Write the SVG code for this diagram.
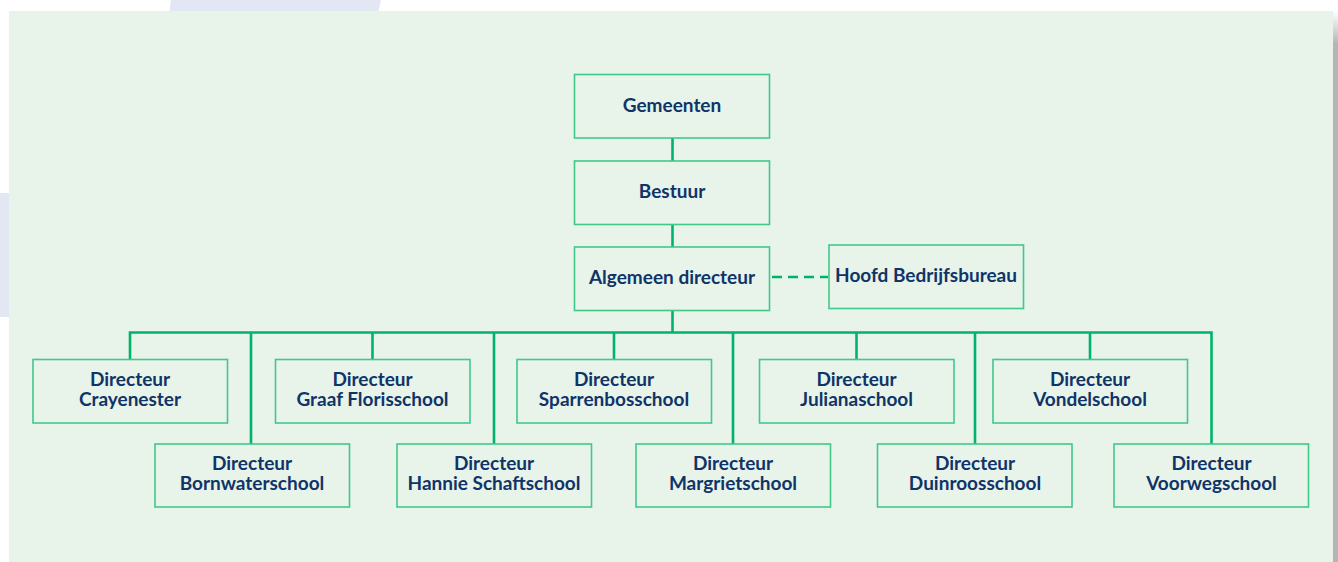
<svg xmlns="http://www.w3.org/2000/svg" width="1338" height="562" viewBox="0 0 1338 562">
<defs>
<linearGradient id="bar" x1="0" y1="0" x2="0" y2="1">
<stop offset="0" stop-color="#ffffff"/>
<stop offset="0.06" stop-color="#b5b5b5"/>
<stop offset="1" stop-color="#b5b5b5"/>
</linearGradient>
<style>
.box{fill:#e8f3ea;stroke:#3fc98b;stroke-width:1.6}
.t{font-family:Lato,"Open Sans","Liberation Sans",sans-serif;font-weight:bold;font-size:19px;fill:#0f3468;text-anchor:middle}
.c{fill:none;stroke:#00b36b;stroke-width:2.6}
.d{fill:none;stroke:#00b36b;stroke-width:2.6;stroke-dasharray:10 6}
</style>
</defs>
<rect x="0" y="0" width="1338" height="562" fill="#ffffff"/>
<polygon points="171,0 381,0 378.5,11 169.5,11" fill="#e3e7f3"/>
<rect x="0" y="193" width="9" height="124" fill="#e3e7f3"/>
<rect x="9" y="11" width="1324" height="551" fill="#e8f3ea"/>
<rect x="1333" y="11" width="5" height="551" fill="url(#bar)"/>

<g id="connectors">
<line class="c" x1="672.5" y1="138" x2="672.5" y2="161"/>
<line class="c" x1="672.5" y1="224" x2="672.5" y2="247"/>
<line class="c" x1="672.5" y1="310" x2="672.5" y2="332.5"/>
<line class="d" x1="772" y1="277" x2="828" y2="277"/>
<polyline class="c" points="130,359.5 130,332.5 1211.5,332.5 1211.5,444"/>
<line class="c" x1="251" y1="332.5" x2="251" y2="444"/>
<line class="c" x1="372.5" y1="332.5" x2="372.5" y2="359.5"/>
<line class="c" x1="494" y1="332.5" x2="494" y2="444"/>
<line class="c" x1="614" y1="332.5" x2="614" y2="359.5"/>
<line class="c" x1="733" y1="332.5" x2="733" y2="444"/>
<line class="c" x1="856.5" y1="332.5" x2="856.5" y2="359.5"/>
<line class="c" x1="975" y1="332.5" x2="975" y2="444"/>
<line class="c" x1="1090" y1="332.5" x2="1090" y2="359.5"/>
</g>

<g id="gemeenten"><rect class="box" x="574.5" y="74.5" width="195" height="63.5"/><text class="t" x="672" y="112">Gemeenten</text></g>
<g id="bestuur"><rect class="box" x="574.5" y="161" width="195" height="63.5"/><text class="t" x="672" y="198">Bestuur</text></g>
<g id="algemeen"><rect class="box" x="574.5" y="247" width="195" height="63.5"/><text class="t" x="672" y="283.5">Algemeen directeur</text></g>
<g id="hoofd"><rect class="box" x="829" y="245" width="194.5" height="63.5"/><text class="t" x="926" y="282">Hoofd Bedrijfsbureau</text></g>

<g id="crayenester"><rect class="box" x="33" y="359.5" width="194.5" height="63.5"/><text class="t" x="130" y="385.5">Directeur</text><text class="t" x="130" y="405.5">Crayenester</text></g>
<g id="graaf"><rect class="box" x="275.5" y="359.5" width="194.5" height="63.5"/><text class="t" x="372.5" y="385.5">Directeur</text><text class="t" x="372.5" y="405.5">Graaf Florisschool</text></g>
<g id="sparrenbos"><rect class="box" x="517" y="359.5" width="194.5" height="63.5"/><text class="t" x="614" y="385.5">Directeur</text><text class="t" x="614" y="405.5">Sparrenbosschool</text></g>
<g id="juliana"><rect class="box" x="759.5" y="359.5" width="194.5" height="63.5"/><text class="t" x="856.5" y="385.5">Directeur</text><text class="t" x="856.5" y="405.5">Julianaschool</text></g>
<g id="vondel"><rect class="box" x="993" y="359.5" width="194.5" height="63.5"/><text class="t" x="1090" y="385.5">Directeur</text><text class="t" x="1090" y="405.5">Vondelschool</text></g>

<g id="bornwater"><rect class="box" x="155" y="444" width="194.5" height="63"/><text class="t" x="252" y="470">Directeur</text><text class="t" x="252" y="489.5">Bornwaterschool</text></g>
<g id="hannie"><rect class="box" x="397" y="444" width="194.5" height="63"/><text class="t" x="494" y="470">Directeur</text><text class="t" x="494" y="489.5">Hannie Schaftschool</text></g>
<g id="margriet"><rect class="box" x="636" y="444" width="194.5" height="63"/><text class="t" x="733" y="470">Directeur</text><text class="t" x="733" y="489.5">Margrietschool</text></g>
<g id="duinroos"><rect class="box" x="877.5" y="444" width="194.5" height="63"/><text class="t" x="975" y="470">Directeur</text><text class="t" x="975" y="489.5">Duinroosschool</text></g>
<g id="voorweg"><rect class="box" x="1114" y="444" width="194.5" height="63"/><text class="t" x="1211.5" y="470">Directeur</text><text class="t" x="1211.5" y="489.5">Voorwegschool</text></g>
</svg>
